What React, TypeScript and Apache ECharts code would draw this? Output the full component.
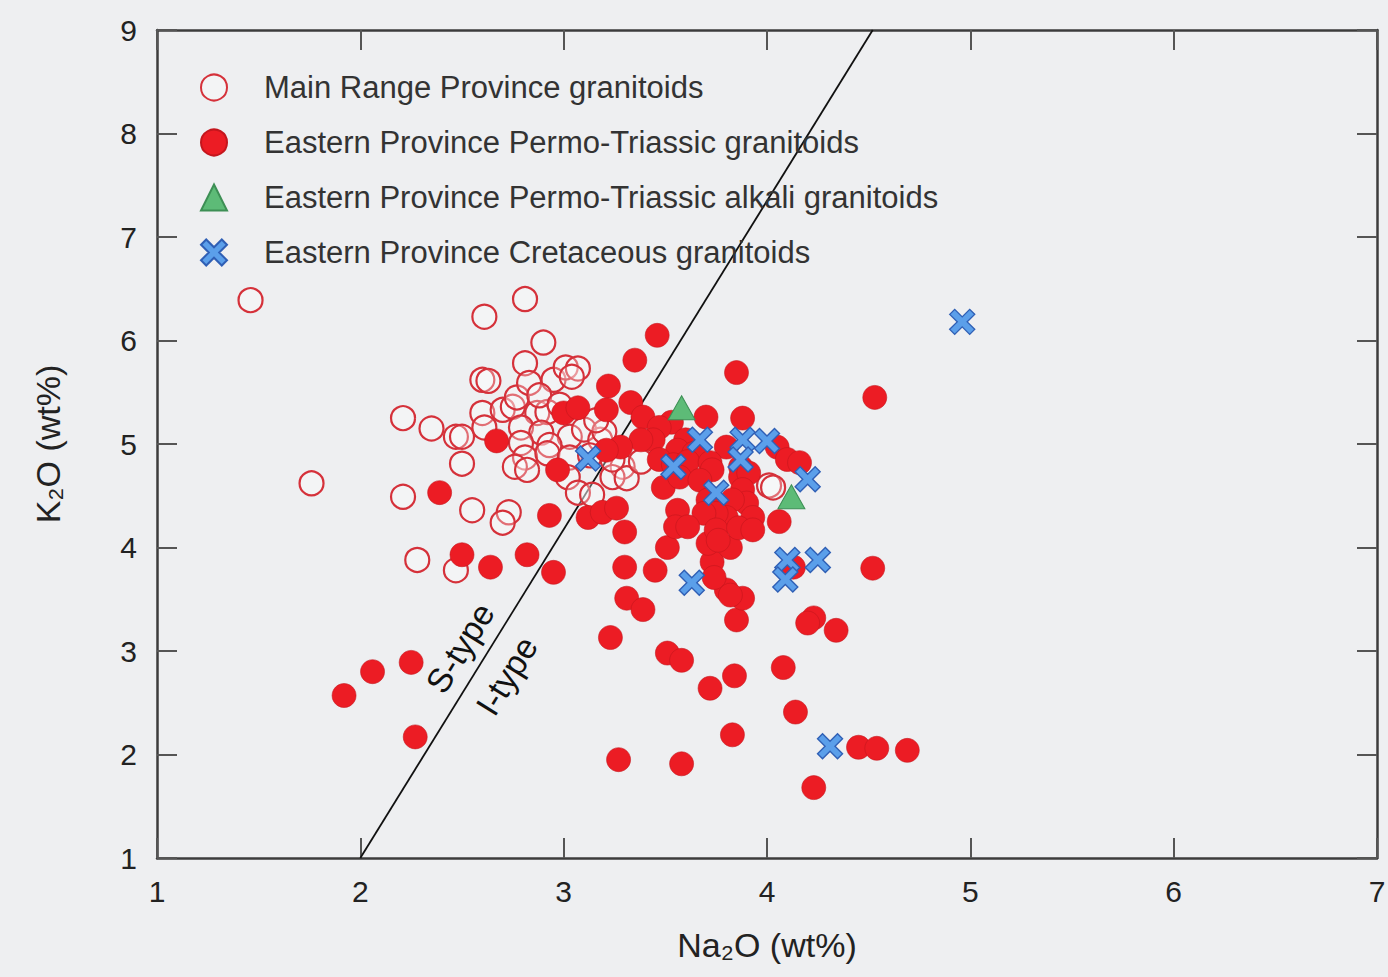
import React, { useEffect, useRef } from "react";
import * as echarts from "echarts";

// Na2O (x), K2O (y) in wt%
const mainRange: [number, number][] = [
  [1.46, 6.39], [1.76, 4.62], [2.21, 5.25], [2.21, 4.49], [2.28, 3.88], [2.35, 5.15],
  [2.47, 5.07], [2.5, 5.07], [2.5, 4.81], [2.47, 3.78], [2.55, 4.36], [2.61, 6.23],
  [2.6, 5.62], [2.63, 5.61], [2.6, 5.3], [2.61, 5.16], [2.7, 5.33], [2.75, 5.36],
  [2.77, 5.45], [2.81, 6.4], [2.81, 5.78], [2.9, 5.98], [2.83, 5.59], [2.95, 5.62],
  [3.01, 5.74], [3.07, 5.73], [3.04, 5.65], [2.87, 5.3], [2.92, 5.31], [2.79, 5.16],
  [2.89, 5.11], [3.03, 5.07], [3.1, 5.14], [2.93, 4.99], [2.79, 5.01], [2.81, 4.87],
  [2.76, 4.78], [2.82, 4.75], [2.92, 4.91], [3.03, 4.87], [3.02, 4.68], [3.29, 4.78],
  [3.24, 4.68], [3.31, 4.67], [3.07, 4.53], [3.14, 4.51], [2.73, 4.34], [2.7, 4.24],
  [4.01, 4.6], [4.03, 4.58], [3.38, 4.83], [3.18, 5.04], [3.2, 5.12], [3.16, 5.23],
  [3.13, 4.89], [3.24, 4.85], [2.88, 5.47], [2.98, 5.38],
];

const permoTriassic: [number, number][] = [
  [1.92, 2.57], [2.06, 2.8], [2.25, 2.89], [2.27, 2.17], [2.39, 4.53], [2.5, 3.93],
  [2.64, 3.81], [2.67, 5.03], [2.82, 3.93], [2.95, 3.76], [2.93, 4.31], [2.97, 4.75],
  [3.0, 5.3], [3.07, 5.35], [3.12, 4.29], [3.19, 4.34], [3.26, 4.38], [3.3, 4.15],
  [3.3, 3.81], [3.45, 3.78], [3.31, 3.51], [3.39, 3.4], [3.23, 3.13], [3.51, 2.98],
  [3.58, 2.91], [3.27, 1.95], [3.58, 1.91], [3.72, 2.64], [3.84, 2.76], [3.83, 2.19],
  [3.85, 3.3], [3.88, 3.51], [3.8, 3.59], [3.73, 3.86], [3.74, 3.71], [3.82, 3.54],
  [4.13, 3.81], [4.23, 3.32], [4.2, 3.27], [4.34, 3.2], [4.08, 2.84], [4.14, 2.41],
  [4.45, 2.07], [4.54, 2.06], [4.69, 2.04], [4.23, 1.68], [4.52, 3.8], [3.51, 4.0],
  [3.82, 4.0], [3.71, 4.04], [3.46, 6.05], [3.35, 5.81], [3.85, 5.69], [3.22, 5.56],
  [3.33, 5.4], [3.21, 5.33], [3.39, 5.26], [3.7, 5.26], [3.88, 5.25], [3.53, 5.21],
  [3.47, 5.16], [3.44, 5.04], [3.38, 5.04], [3.28, 4.97], [3.21, 4.94], [3.6, 5.04],
  [3.56, 4.94], [3.64, 4.91], [3.8, 4.97], [4.05, 4.97], [4.1, 4.85], [4.16, 4.82],
  [3.47, 4.85], [3.54, 4.8], [3.61, 4.83], [3.72, 4.82], [3.73, 4.75], [3.87, 4.78],
  [3.87, 4.68], [3.91, 4.72], [3.49, 4.58], [3.57, 4.68], [3.67, 4.65], [3.71, 4.46],
  [3.88, 4.56], [3.9, 4.43], [3.83, 4.46], [3.93, 4.29], [3.8, 4.29], [3.75, 4.33],
  [3.69, 4.33], [3.56, 4.36], [3.55, 4.2], [3.61, 4.2], [3.75, 4.17], [3.86, 4.19],
  [3.93, 4.17], [4.06, 4.25], [3.76, 4.07], [4.53, 5.45],
];

const alkali: [number, number][] = [
  [3.58, 5.35], [4.12, 4.49],
];

const cretaceous: [number, number][] = [
  [4.96, 6.18], [3.12, 4.86], [3.88, 5.04], [3.67, 5.04], [4.0, 5.03], [3.54, 4.78],
  [3.87, 4.85], [3.75, 4.53], [4.2, 4.66], [3.63, 3.66], [4.1, 3.88], [4.09, 3.69],
  [4.25, 3.88], [4.31, 2.08],
];

// S-type / I-type boundary line
const boundary: [number, number][] = [[2, 1], [4.52, 9]];

const seriesNames = [
  "Main Range Province granitoids",
  "Eastern Province Permo-Triassic granitoids",
  "Eastern Province Permo-Triassic alkali granitoids",
  "Eastern Province Cretaceous granitoids",
];

const xTicks = { min: 1, max: 7, interval: 1 };
const yTicks = { min: 1, max: 9, interval: 1 };

const FONT = "'Liberation Sans', Arial, Helvetica, sans-serif";
const CROSS = "path://M0,2 L2,0 L5,3 L8,0 L10,2 L7,5 L10,8 L8,10 L5,7 L2,10 L0,8 L3,5 Z";

export default function App() {
  const ref = useRef<HTMLDivElement>(null);
  useEffect(() => {
    if (!ref.current) return;
    const chart = echarts.init(ref.current, undefined, { renderer: "svg" });
    const axisLine = { show: true, lineStyle: { color: "#3c3c3c", width: 2.5 } };
    const axisTick = { show: true, inside: true, length: 20, lineStyle: { color: "#555", width: 2 } };
    const labelStyle = { fontSize: 30, color: "#222", fontFamily: FONT };
    const nameStyle = { fontSize: 34, color: "#222", fontFamily: FONT };
    chart.setOption({
      animation: false,
      backgroundColor: "#eeeff1",
      grid: { left: 157, top: 30, right: 11, bottom: 119, outerBoundsMode: "none", containLabel: false },
      legend: {
        show: true,
        orient: "vertical",
        left: 195,
        top: 67,
        padding: 5,
        itemWidth: 26,
        itemHeight: 26,
        itemGap: 24,
        z: 8,
        data: seriesNames,
        textStyle: { fontSize: 31, color: "#333", fontFamily: FONT, padding: [0, 0, 0, 32], lineHeight: 28 },
      },
      xAxis: [
        {
          type: "value", position: "bottom", ...xTicks,
          name: "Na₂O (wt%)", nameLocation: "middle", nameGap: 70, nameTextStyle: nameStyle,
          axisLine, axisTick, splitLine: { show: false },
          axisLabel: { ...labelStyle, margin: 18 },
        },
        {
          type: "value", position: "top", ...xTicks,
          axisLine, axisTick, splitLine: { show: false }, axisLabel: { show: false },
        },
      ],
      yAxis: [
        {
          type: "value", position: "left", ...yTicks,
          name: "K₂O (wt%)", nameLocation: "middle", nameGap: 92, nameTextStyle: nameStyle,
          axisLine, axisTick, splitLine: { show: false },
          axisLabel: { ...labelStyle, margin: 20 },
        },
        {
          type: "value", position: "right", ...yTicks,
          axisLine, axisTick, splitLine: { show: false }, axisLabel: { show: false },
        },
      ],
      series: [
        {
          type: "line", data: boundary, symbol: "none", silent: true,
          lineStyle: { color: "#111", width: 1.8 }, z: 1,
        },
        {
          name: seriesNames[0], type: "scatter", data: mainRange, symbol: "circle", symbolSize: 24,
          itemStyle: { color: "rgba(255,255,255,0.3)", borderColor: "#d5313a", borderWidth: 2.2, opacity: 1 }, z: 3,
        },
        {
          name: seriesNames[1], type: "scatter", data: permoTriassic, symbol: "circle", symbolSize: 24,
          itemStyle: { color: "#ec1c24", borderColor: "#c4161d", borderWidth: 0.6, opacity: 1 }, z: 4,
        },
        {
          name: seriesNames[2], type: "scatter", data: alkali, symbol: "triangle", symbolSize: [27, 24],
          itemStyle: { color: "#5dbb77", borderColor: "#3d8f55", borderWidth: 1, opacity: 1 }, z: 5,
        },
        {
          name: seriesNames[3], type: "scatter", data: cretaceous, symbol: CROSS, symbolSize: 25,
          itemStyle: { color: "#5b9fea", borderColor: "#2f5fb5", borderWidth: 1.4, opacity: 1 }, z: 6,
        },
      ],
    });
    const sPos = chart.convertToPixel({ gridIndex: 0 }, [2.49, 3.03]) as number[];
    const iPos = chart.convertToPixel({ gridIndex: 0 }, [2.72, 2.76]) as number[];
    const p0 = chart.convertToPixel({ gridIndex: 0 }, boundary[0]) as number[];
    const p1 = chart.convertToPixel({ gridIndex: 0 }, boundary[1]) as number[];
    const angle = Math.atan2(p0[1] - p1[1], p1[0] - p0[0]);
    const textStyle = { fontSize: 34, fill: "#111", fontFamily: FONT, align: "center", verticalAlign: "middle" };
    chart.setOption({
      graphic: [
        { type: "text", x: sPos[0], y: sPos[1], rotation: angle, z: 10, style: { ...textStyle, text: "S-type" } },
        { type: "text", x: iPos[0], y: iPos[1], rotation: angle, z: 10, style: { ...textStyle, text: "I-type" } },
      ],
    });
    return () => chart.dispose();
  }, []);
  return (
    <div
      ref={ref}
      style={{ position: "fixed", left: 0, top: 0, width: 1388, height: 977 }}
    />
  );
}
